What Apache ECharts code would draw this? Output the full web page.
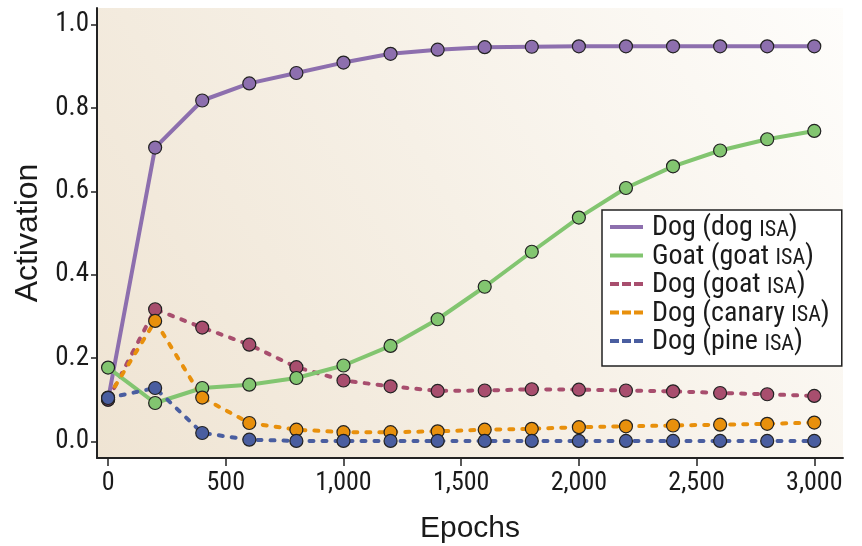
<!DOCTYPE html>
<html>
<head>
<meta charset="utf-8">
<script src="https://cdn.jsdelivr.net/npm/echarts@6/dist/echarts.min.js"></script>
<style>
  html, body { margin: 0; padding: 0; background: #fff; }
  #chart { width: 862px; height: 546px; }
</style>
</head>
<body>
<div id="chart"></div>
<script>
const epochs = [0, 200, 400, 600, 800, 1000, 1200, 1400, 1600, 1800, 2000, 2200, 2400, 2600, 2800, 3000]
const dogDogIsa = [0.10, 0.705, 0.818, 0.859, 0.884, 0.909, 0.930, 0.940, 0.946, 0.947, 0.948, 0.948, 0.948, 0.948, 0.948, 0.948]
const goatGoatIsa = [0.177, 0.092, 0.128, 0.136, 0.152, 0.182, 0.229, 0.293, 0.371, 0.455, 0.537, 0.608, 0.660, 0.698, 0.725, 0.745]
const dogGoatIsa = [0.10, 0.317, 0.273, 0.232, 0.178, 0.146, 0.132, 0.121, 0.122, 0.125, 0.124, 0.122, 0.120, 0.116, 0.113, 0.109]
const dogCanaryIsa = [0.105, 0.289, 0.105, 0.044, 0.028, 0.022, 0.022, 0.024, 0.028, 0.030, 0.034, 0.036, 0.038, 0.040, 0.042, 0.045]
const dogPineIsa = [0.104, 0.128, 0.020, 0.004, 0.001, 0.001, 0.001, 0.001, 0.001, 0.001, 0.001, 0.001, 0.001, 0.001, 0.001, 0.001]
const xTicks = [0, 500, 1000, 1500, 2000, 2500, 3000]
const yTicks = [0, 0.2, 0.4, 0.6, 0.8, 1.0]

const narrow = '"Roboto Condensed", "DejaVu Sans Condensed", sans-serif'
const plain = '"Liberation Sans", Arial, sans-serif'
const solidIcon = 'path://M0,0h33v4h-33z'
const dashIcon = 'path://M0,0h9v4h-9zM12,0h9v4h-9zM24,0h9v4h-9z'

const pairs = (ys) => epochs.map((x, i) => [x, ys[i]])

const makeSeries = (name, ys, color, dashed) => ({
  name,
  type: 'line',
  data: pairs(ys),
  symbol: 'circle',
  symbolSize: 13,
  lineStyle: {
    color,
    width: 4,
    type: dashed ? [4, 9] : 'solid',
    cap: dashed ? 'round' : 'butt'
  },
  itemStyle: { color, borderColor: '#222', borderWidth: 1.2 },
  emphasis: { disabled: true },
  animation: false
})

const chart = echarts.init(document.getElementById('chart'))
chart.setOption({
  backgroundColor: '#fff',
  grid: {
    show: true,
    left: 97,
    right: 19,
    top: 8,
    bottom: 88,
    outerBoundsMode: 'none',
    containLabel: false,
    borderWidth: 0,
    backgroundColor: new echarts.graphic.LinearGradient(0, 1, 1, 0, [
      { offset: 0, color: '#efe4d3' },
      { offset: 0.5, color: '#f6f0e6' },
      { offset: 1, color: '#fefdfb' }
    ])
  },
  legend: {
    orient: 'vertical',
    left: 602,
    top: 210,
    padding: [4, 12, 10, 8],
    itemGap: 0.5,
    itemWidth: 33,
    itemHeight: 4,
    backgroundColor: '#fff',
    borderColor: '#222',
    borderWidth: 1.5,
    borderRadius: 0,
    itemStyle: { borderWidth: 0 },
    selectedMode: false,
    formatter: (name) => '{n|' + name.replace(' ISA)', ' }{s|ISA}{n|)}'),
    textStyle: {
      padding: [0, 0, 0, 4],
      rich: {
        n: { fontFamily: narrow, fontSize: 28, lineHeight: 30, color: '#1a1a1a', verticalAlign: 'bottom' },
        s: { fontFamily: narrow, fontSize: 22, lineHeight: 30, color: '#1a1a1a', verticalAlign: 'bottom', padding: [0, 0, 1, 0] }
      }
    },
    data: [
      { name: 'Dog (dog ISA)', icon: solidIcon },
      { name: 'Goat (goat ISA)', icon: solidIcon },
      { name: 'Dog (goat ISA)', icon: dashIcon },
      { name: 'Dog (canary ISA)', icon: dashIcon },
      { name: 'Dog (pine ISA)', icon: dashIcon }
    ]
  },
  xAxis: {
    type: 'value',
    min: -47,
    max: 3122,
    name: 'Epochs',
    nameLocation: 'middle',
    nameGap: 56,
    nameTextStyle: { fontFamily: plain, fontSize: 30, color: '#1a1a1a' },
    axisLine: { show: true, onZero: false, lineStyle: { color: '#222', width: 2 } },
    axisTick: { show: true, length: 8, customValues: xTicks, lineStyle: { color: '#222', width: 1.5 } },
    axisLabel: {
      customValues: xTicks,
      margin: 12,
      fontFamily: narrow,
      fontSize: 26,
      color: '#1a1a1a',
      formatter: (v) => v.toLocaleString('en-US')
    },
    splitLine: { show: false }
  },
  yAxis: {
    type: 'value',
    min: -0.04,
    max: 1.04,
    name: 'Activation',
    nameLocation: 'middle',
    nameGap: 46,
    nameTextStyle: { fontFamily: plain, fontSize: 32, color: '#1a1a1a' },
    axisLine: { show: true, onZero: false, lineStyle: { color: '#222', width: 2 } },
    axisTick: { show: true, length: 6, customValues: yTicks, lineStyle: { color: '#222', width: 1.5 } },
    axisLabel: {
      customValues: yTicks,
      margin: 8,
      fontFamily: narrow,
      fontSize: 27,
      color: '#1a1a1a',
      formatter: (v) => v.toFixed(1)
    },
    splitLine: { show: false }
  },
  series: [
    makeSeries('Dog (dog ISA)', dogDogIsa, '#8d6fae', false),
    makeSeries('Dog (goat ISA)', dogGoatIsa, '#a84e6e', true),
    makeSeries('Goat (goat ISA)', goatGoatIsa, '#82c570', false),
    makeSeries('Dog (canary ISA)', dogCanaryIsa, '#e8900c', true),
    makeSeries('Dog (pine ISA)', dogPineIsa, '#4a5ea0', true)
  ]
})
</script>
</body>
</html>
